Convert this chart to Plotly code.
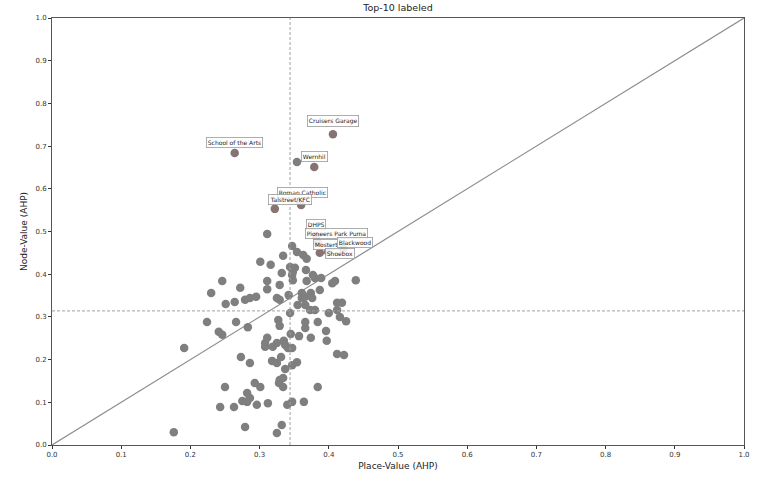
import plotly.graph_objects as go

# Unlabeled points (Place-Value, Node-Value)
place_vals = [
    0.354, 0.311, 0.347, 0.354, 0.363, 0.368, 0.334, 0.301, 0.316, 0.344,
    0.351, 0.348, 0.347, 0.367, 0.332, 0.311, 0.311, 0.329, 0.348, 0.368,
    0.377, 0.380, 0.389, 0.405, 0.409, 0.439, 0.246, 0.230, 0.272, 0.251,
    0.264, 0.279, 0.286, 0.295, 0.325, 0.329, 0.342, 0.361, 0.361, 0.366,
    0.374, 0.387, 0.376, 0.355, 0.366, 0.344, 0.373, 0.380, 0.400, 0.412,
    0.419, 0.412, 0.416, 0.425, 0.327, 0.329, 0.366, 0.384, 0.366, 0.283,
    0.224, 0.266, 0.396, 0.397, 0.345, 0.357, 0.374, 0.311, 0.308, 0.308,
    0.319, 0.325, 0.335, 0.337, 0.341, 0.347, 0.412, 0.422, 0.273, 0.286,
    0.318, 0.325, 0.331, 0.354, 0.347, 0.337, 0.334, 0.329, 0.328, 0.334,
    0.293, 0.301, 0.384, 0.282, 0.286, 0.275, 0.282, 0.296, 0.312, 0.340,
    0.347, 0.364, 0.279, 0.332, 0.325, 0.241, 0.246, 0.191, 0.250, 0.243,
    0.263, 0.176,
]
node_vals = [
    0.663, 0.494, 0.466, 0.452, 0.445, 0.436, 0.443, 0.429, 0.422, 0.417,
    0.415, 0.405, 0.398, 0.410, 0.403, 0.384, 0.365, 0.375, 0.386, 0.384,
    0.398, 0.391, 0.391, 0.379, 0.384, 0.386, 0.384, 0.356, 0.368, 0.330,
    0.335, 0.340, 0.344, 0.347, 0.344, 0.340, 0.351, 0.356, 0.344, 0.347,
    0.356, 0.363, 0.344, 0.328, 0.328, 0.309, 0.316, 0.316, 0.309, 0.333,
    0.333, 0.316, 0.300, 0.290, 0.293, 0.279, 0.288, 0.288, 0.274, 0.276,
    0.288, 0.288, 0.267, 0.244, 0.260, 0.255, 0.251, 0.251, 0.239, 0.230,
    0.230, 0.239, 0.244, 0.234, 0.227, 0.227, 0.213, 0.211, 0.206, 0.192,
    0.197, 0.192, 0.206, 0.194, 0.187, 0.178, 0.157, 0.152, 0.145, 0.136,
    0.145, 0.136, 0.136, 0.122, 0.110, 0.103, 0.101, 0.094, 0.098, 0.094,
    0.101, 0.101, 0.042, 0.047, 0.028, 0.265, 0.258, 0.227, 0.136, 0.089,
    0.089, 0.030,
]

# Top-10 labeled points
top_names = ["Cruisers Garage", "School of the Arts", "Wernhil", "Roman Catholic",
             "Talstreet/KFC", "DHPS", "Pioneers Park Puma", "Mostert",
             "Blackwood", "Shoebox"]
top_place = [0.406, 0.264, 0.379, 0.360, 0.322, 0.382, 0.384, 0.399, 0.421, 0.387]
top_node = [0.728, 0.684, 0.651, 0.562, 0.553, 0.489, 0.473, 0.452, 0.459, 0.450]
# label offsets in pixels (dx right, dy up)
label_dx = [0, 0, 0, 1, 15, 0, 19, -2, 12, 20]
label_dy = [13, 10, 11, 13, 9, 12, 10, 8, 7, -1]

place_threshold = 0.344
node_threshold = 0.314

axis_ticks = [round(i * 0.1, 1) for i in range(11)]

FONT = "DejaVu Sans"

fig = go.Figure()

fig.add_trace(go.Scatter(
    x=[0, 1], y=[0, 1], mode="lines",
    line=dict(color="#8c8c8c", width=1.2), hoverinfo="skip", showlegend=False))

fig.add_trace(go.Scatter(
    x=place_vals, y=node_vals, mode="markers",
    marker=dict(color="#7f7f7f", size=8.5, line=dict(width=0)),
    showlegend=False))

fig.add_trace(go.Scatter(
    x=top_place, y=top_node, mode="markers",
    marker=dict(color="#877373", size=8.5, line=dict(width=0)),
    showlegend=False))

fig.add_shape(type="line", xref="x", yref="paper", x0=place_threshold, x1=place_threshold,
              y0=0, y1=1, line=dict(color="#a0a0a0", width=1, dash="3px,2px"))
fig.add_shape(type="line", xref="paper", yref="y", x0=0, x1=1,
              y0=node_threshold, y1=node_threshold,
              line=dict(color="#a0a0a0", width=1, dash="3px,2px"))

for name, xv, yv, dx, dy in zip(top_names, top_place, top_node, label_dx, label_dy):
    fig.add_annotation(
        x=xv, y=yv, text=name, showarrow=False, xshift=dx, yshift=dy,
        font=dict(family=FONT, size=6, color="#222222"),
        bgcolor="rgba(255,255,255,0.85)", bordercolor="#9a9a9a", borderwidth=0.8,
        borderpad=1)

axis_common = dict(
    range=[0, 1], tickvals=axis_ticks, tickformat=".1f",
    ticks="outside", ticklen=3, tickcolor="#333333", tickwidth=1,
    showline=True, linecolor="#555555", linewidth=1, mirror=True,
    showgrid=False, zeroline=False,
    tickfont=dict(family=FONT, size=7, color="#333333"),
)

fig.update_layout(
    width=767, height=481,
    margin=dict(l=52, r=23, t=18, b=36),
    paper_bgcolor="white", plot_bgcolor="white",
    title=dict(text="Top-10 labeled", x=(52 + 744) / 2 / 767, xanchor="center",
               y=1 - 8 / 481, yanchor="middle",
               font=dict(family=FONT, size=9.5, color="#222222")),
    xaxis=dict(**axis_common, title=dict(text="Place-Value (AHP)", standoff=4,
                                         font=dict(family=FONT, size=9, color="#222222"))),
    yaxis=dict(**axis_common, title=dict(text="Node-Value (AHP)", standoff=6,
                                         font=dict(family=FONT, size=9, color="#222222"))),
)

fig.write_html("out.html")
